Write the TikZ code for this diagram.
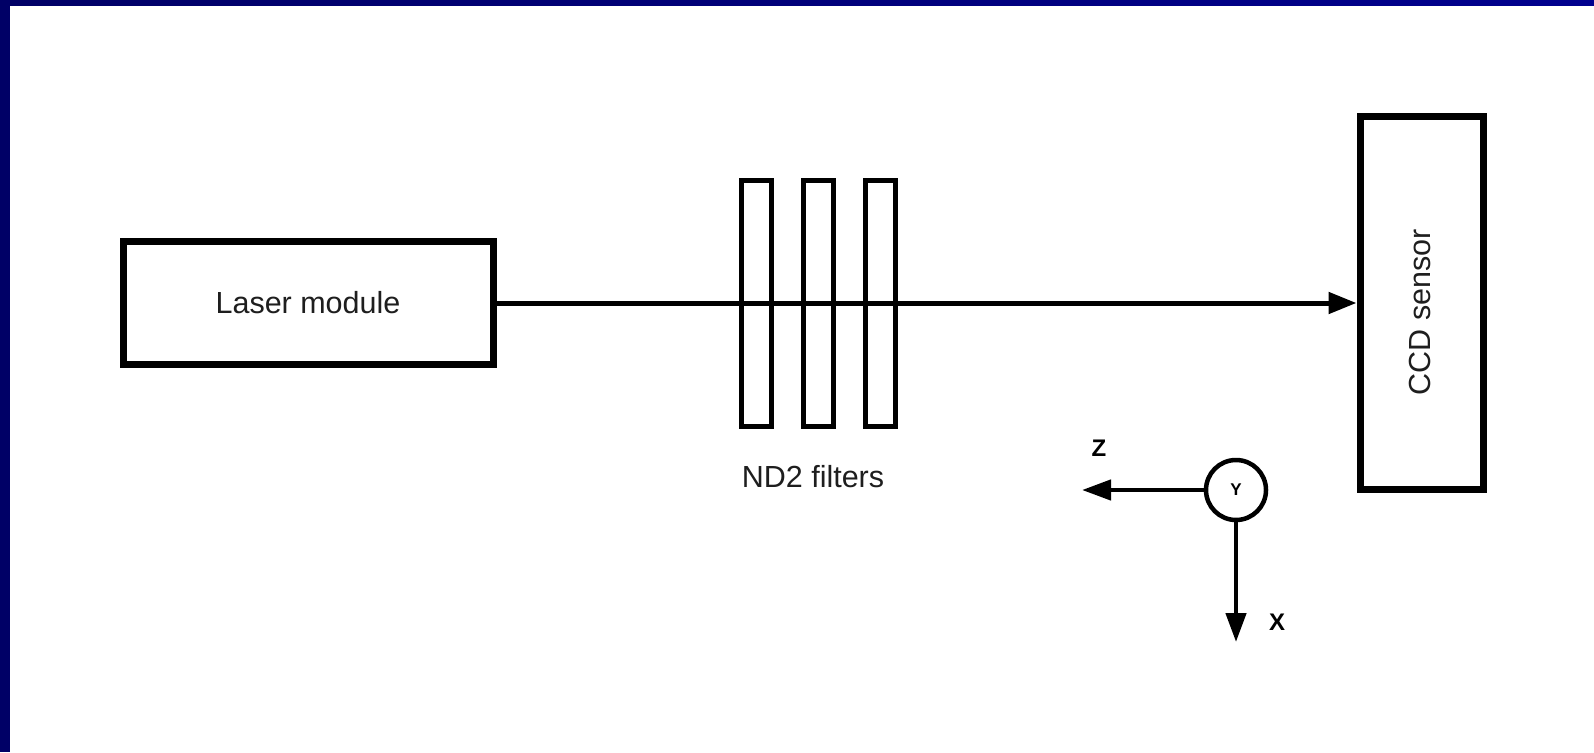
\documentclass[tikz,border=0pt]{standalone}
\usepackage{fontspec}
\setmainfont{Liberation Sans}[BoldFont={Liberation Sans Bold}]
\usetikzlibrary{arrows.meta}
\definecolor{navyL}{HTML}{000066}
\definecolor{navyR}{HTML}{00008E}
\definecolor{txt}{HTML}{1E1E1E}
\tikzset{
  bigbox/.style={draw=black, line width=7pt, inner sep=0pt, rectangle},
  filterbox/.style={draw=black, line width=5pt, inner sep=0pt, rectangle, minimum width=30pt, minimum height=246pt},
  lbl/.style={text=txt, font=\fontsize{30.5}{36}\selectfont, inner sep=0pt},
  axlbl/.style={text=black, font=\fontsize{24}{28}\selectfont\bfseries, inner sep=0pt},
  beam/.style={line width=5pt, -{Triangle[length=28pt,width=21pt]}},
  axis/.style={line width=4.5pt, -{Triangle[length=29pt,width=20pt]}}
}
\begin{document}
\begin{tikzpicture}[x=1pt,y=-1pt]
\useasboundingbox (0,0) rectangle (1594,752);
\fill[white] (0,0) rectangle (1594,752);
\shade[left color=navyL, right color=navyR] (0,0) rectangle (1594,6);
\fill[navyL] (0,0) rectangle (10,752);

\node[bigbox, minimum width=370pt, minimum height=123.5pt, lbl] (laser) at (308,303) {Laser module};
\node[bigbox, minimum width=123pt, minimum height=372.5pt] (ccd) at (1421.5,303) {};
\node[lbl, rotate=90] (ccdtext) at (1420,312) {CCD sensor};

\node[filterbox] (f1) at (756.7,303) {};
\node[filterbox] (f2) at (818.3,303) {};
\node[filterbox] (f3) at (880.5,303) {};
\node[lbl] (ndtext) at (813,477) {ND2 filters};

\draw[beam] (laser.east) -- (ccd.west);

\node[circle, draw=black, line width=4.5pt, minimum size=60pt, inner sep=0pt,
      text=black, font=\fontsize{17}{20}\selectfont\bfseries] (ycirc) at (1236,490) {Y};
\coordinate (ztip) at (1082,490);
\coordinate (xtip) at (1236,642);
\draw[axis] (ycirc.west) -- (ztip);
\draw[axis] (ycirc.south) -- (xtip);
\node[axlbl] (zlbl) at (1099,448) {Z};
\node[axlbl] (xlbl) at (1277,622) {X};
\end{tikzpicture}
\end{document}
